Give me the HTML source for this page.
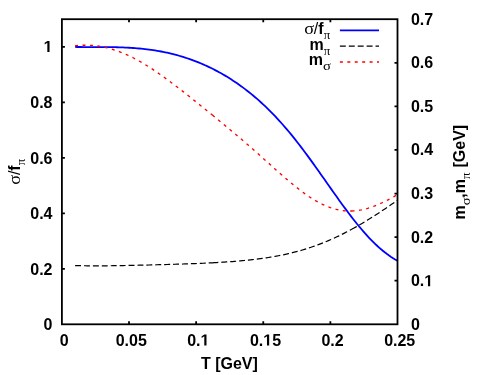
<!DOCTYPE html>
<html><head><meta charset="utf-8"><title>plot</title>
<style>
html,body{margin:0;padding:0;background:#fff;}
body{width:498px;height:375px;overflow:hidden;}
svg{display:block;}
text{font-family:"Liberation Sans",sans-serif;font-weight:bold;font-size:16px;fill:#000;font-kerning:none;}
.reg{font-weight:normal;}
.sym{font-family:"Liberation Serif",serif;font-weight:normal;}
.sub{font-family:"Liberation Serif",serif;font-weight:normal;font-size:12.8px;}
</style></head><body>
<svg style="will-change:transform" width="498" height="375" viewBox="0 0 498 375">
<rect x="0" y="0" width="498" height="375" fill="#fff"/>

<path d="M75.1,46.97 L77.1,46.99 L79.1,47.01 L81.1,47.02 L83.1,47.03 L85.1,47.03 L87.1,47.04 L89.1,47.04 L91.1,47.03 L93.1,47.03 L95.1,47.03 L97.1,47.03 L99.1,47.03 L101.1,47.04 L103.1,47.04 L105.1,47.06 L107.1,47.07 L109.1,47.09 L111.1,47.12 L113.1,47.15 L115.1,47.20 L117.1,47.25 L119.1,47.30 L121.1,47.37 L123.1,47.45 L125.1,47.53 L127.1,47.63 L129.1,47.74 L131.1,47.87 L133.1,48.00 L135.1,48.15 L137.1,48.31 L139.1,48.49 L141.1,48.68 L143.1,48.88 L145.1,49.11 L147.1,49.35 L149.1,49.60 L151.1,49.87 L153.1,50.16 L155.1,50.47 L157.1,50.80 L159.1,51.15 L161.1,51.51 L163.1,51.90 L165.1,52.31 L167.1,52.73 L169.1,53.18 L171.1,53.65 L173.1,54.14 L175.1,54.66 L177.1,55.19 L179.1,55.75 L181.1,56.34 L183.1,56.94 L185.1,57.57 L187.1,58.23 L189.1,58.90 L191.1,59.61 L193.1,60.33 L195.1,61.09 L197.1,61.86 L199.1,62.67 L201.1,63.50 L203.1,64.36 L205.1,65.24 L207.1,66.15 L209.1,67.09 L211.1,68.06 L213.1,69.05 L215.1,70.08 L217.1,71.13 L219.1,72.21 L221.1,73.32 L223.1,74.47 L225.1,75.64 L227.1,76.84 L229.1,78.08 L231.1,79.35 L233.1,80.64 L235.1,81.98 L237.1,83.34 L239.1,84.74 L241.1,86.17 L243.1,87.64 L245.1,89.14 L247.1,90.68 L249.1,92.26 L251.1,93.87 L253.1,95.51 L255.1,97.20 L257.1,98.92 L259.1,100.68 L261.1,102.48 L263.1,104.32 L265.1,106.20 L267.1,108.12 L269.1,110.08 L271.1,112.08 L273.1,114.13 L275.1,116.22 L277.1,118.35 L279.1,120.52 L281.1,122.73 L283.1,124.99 L285.1,127.29 L287.1,129.64 L289.1,132.02 L291.1,134.44 L293.1,136.91 L295.1,139.41 L297.1,141.95 L299.1,144.52 L301.1,147.13 L303.1,149.77 L305.1,152.44 L307.1,155.14 L309.1,157.87 L311.1,160.62 L313.1,163.39 L315.1,166.18 L317.1,168.99 L319.1,171.81 L321.1,174.65 L323.1,177.49 L325.1,180.34 L327.1,183.19 L329.1,186.03 L331.1,188.88 L333.1,191.71 L335.1,194.54 L337.1,197.35 L339.1,200.15 L341.1,202.92 L343.1,205.67 L345.1,208.39 L347.1,211.08 L349.1,213.74 L351.1,216.36 L353.1,218.94 L355.1,221.47 L357.1,223.96 L359.1,226.40 L361.1,228.79 L363.1,231.12 L365.1,233.39 L367.1,235.61 L369.1,237.77 L371.1,239.86 L373.1,241.88 L375.1,243.84 L377.1,245.73 L379.1,247.55 L381.1,249.30 L383.1,250.97 L385.1,252.57 L387.1,254.09 L389.1,255.54 L391.1,256.91 L393.1,258.20 L395.1,259.42 L397.1,260.56 L397.6,260.83" fill="none" stroke="#00f" stroke-width="1.8"/>
<path d="M75.1,265.55 L77.1,265.60 L79.1,265.65 L81.1,265.69 L83.1,265.72 L85.1,265.75 L87.1,265.78 L89.1,265.80 L91.1,265.81 L93.1,265.82 L95.1,265.82 L97.1,265.82 L99.1,265.82 L101.1,265.82 L103.1,265.81 L105.1,265.79 L107.1,265.78 L109.1,265.76 L111.1,265.73 L113.1,265.71 L115.1,265.68 L117.1,265.65 L119.1,265.62 L121.1,265.59 L123.1,265.56 L125.1,265.52 L127.1,265.48 L129.1,265.44 L131.1,265.40 L133.1,265.36 L135.1,265.31 L137.1,265.27 L139.1,265.22 L141.1,265.17 L143.1,265.13 L145.1,265.08 L147.1,265.03 L149.1,264.98 L151.1,264.93 L153.1,264.87 L155.1,264.82 L157.1,264.77 L159.1,264.71 L161.1,264.66 L163.1,264.60 L165.1,264.55 L167.1,264.49 L169.1,264.43 L171.1,264.37 L173.1,264.31 L175.1,264.25 L177.1,264.19 L179.1,264.12 L181.1,264.06 L183.1,263.99 L185.1,263.92 L187.1,263.85 L189.1,263.78 L191.1,263.71 L193.1,263.64 L195.1,263.56 L197.1,263.48 L199.1,263.40 L201.1,263.32 L203.1,263.23 L205.1,263.14 L207.1,263.05 L209.1,262.95 L211.1,262.85 L212.4,262.79 M212.4,262.79 L214.4,262.68 L216.4,262.57 L218.4,262.46 L220.4,262.34 L222.4,262.22 L224.4,262.09 L226.4,261.96 L228.4,261.83 L230.4,261.68 L232.4,261.53 L234.4,261.38 L236.4,261.22 L238.4,261.05 L240.4,260.87 L242.4,260.69 L244.4,260.50 L246.4,260.30 L248.4,260.10 L250.4,259.88 L252.4,259.66 L254.4,259.42 L256.4,259.18 L258.4,258.93 L260.4,258.66 L262.4,258.39 L264.4,258.10 L266.4,257.81 L268.4,257.50 L270.4,257.18 L272.4,256.84 L274.4,256.49 L276.4,256.13 L278.4,255.76 L280.4,255.37 L282.4,254.96 L284.4,254.54 L286.4,254.11 L288.4,253.65 L290.4,253.18 L292.4,252.70 L294.4,252.19 L296.4,251.67 L298.4,251.13 L300.4,250.57 L302.4,249.99 L304.4,249.39 L306.4,248.77 L308.4,248.13 L310.4,247.47 L312.4,246.80 L314.4,246.10 L316.4,245.38 L318.4,244.64 L320.4,243.88 L322.4,243.09 L324.4,242.29 L326.4,241.47 L328.4,240.62 L330.4,239.76 L332.4,238.87 L334.4,237.96 L336.4,237.03 L338.4,236.09 L340.4,235.12 L342.4,234.13 L344.4,233.12 L346.4,232.09 L348.4,231.04 L350.4,229.97 L351.6,229.32 M351.6,229.32 L353.6,228.22 L355.6,227.11 L357.6,225.97 L359.6,224.82 L361.6,223.65 L363.6,222.46 L365.6,221.25 L367.6,220.03 L369.6,218.80 L371.6,217.55 L373.6,216.28 L375.6,215.00 L377.6,213.71 L379.6,212.40 L381.6,211.08 L383.6,209.75 L385.6,208.41 L387.6,207.06 L389.6,205.70 L391.6,204.33 L393.6,202.96 L395.6,201.57 L397.6,200.18" fill="none" stroke="#000" stroke-width="1.2" stroke-dasharray="5.94 2.97"/>
<path d="M75.1,45.77 L77.1,45.57 L79.1,45.42 L81.1,45.31 L83.1,45.24 L85.1,45.22 L87.1,45.24 L89.1,45.30 L91.1,45.41 L93.1,45.56 L95.1,45.75 L97.1,45.99 L99.1,46.28 L101.1,46.61 L103.1,46.98 L105.1,47.40 L107.1,47.87 L109.1,48.38 L111.1,48.93 L113.1,49.52 L115.1,50.16 L117.1,50.84 L119.1,51.57 L121.1,52.33 L123.1,53.14 L125.1,53.99 L127.1,54.87 L129.1,55.80 L131.1,56.77 L133.1,57.77 L135.1,58.81 L137.1,59.88 L139.1,60.99 L141.1,62.13 L143.1,63.30 L145.1,64.51 L147.1,65.75 L149.1,67.01 L151.1,68.30 L153.1,69.62 L155.1,70.96 L157.1,72.33 L159.1,73.71 L161.1,75.12 L163.1,76.55 L165.1,77.99 L167.1,79.45 L169.1,80.93 L171.1,82.42 L173.1,83.92 L175.1,85.44 L177.1,86.97 L179.1,88.51 L181.1,90.05 L183.1,91.61 L185.1,93.18 L187.1,94.75 L189.1,96.33 L191.1,97.92 L193.1,99.51 L195.1,101.11 L197.1,102.71 L199.1,104.31 L201.1,105.93 L203.1,107.54 L205.1,109.16 L207.1,110.78 L209.1,112.41 L211.1,114.04 L212.4,115.10 M212.4,115.10 L214.4,116.73 L216.4,118.37 L218.4,120.01 L220.4,121.66 L222.4,123.30 L224.4,124.96 L226.4,126.61 L228.4,128.28 L230.4,129.94 L232.4,131.62 L234.4,133.30 L236.4,134.98 L238.4,136.67 L240.4,138.38 L242.4,140.08 L244.4,141.80 L246.4,143.53 L248.4,145.26 L250.4,147.01 L252.4,148.76 L254.4,150.52 L256.4,152.29 L258.4,154.06 L260.4,155.84 L262.4,157.63 L264.4,159.42 L266.4,161.21 L268.4,163.01 L270.4,164.80 L272.4,166.59 L274.4,168.38 L276.4,170.17 L278.4,171.95 L280.4,173.72 L282.4,175.47 L284.4,177.22 L286.4,178.94 L288.4,180.65 L290.4,182.34 L292.4,184.01 L294.4,185.65 L296.4,187.26 L298.4,188.84 L300.4,190.39 L302.4,191.90 L304.4,193.37 L306.4,194.80 L308.4,196.18 L310.4,197.51 L312.4,198.79 L314.4,200.02 L316.4,201.19 L318.4,202.30 L320.4,203.35 L322.4,204.34 L324.4,205.27 L326.4,206.13 L328.4,206.92 L330.4,207.64 L332.4,208.30 L334.4,208.89 L336.4,209.40 L338.4,209.85 L340.4,210.22 L342.4,210.52 L344.4,210.75 L346.4,210.91 L348.4,211.00 L350.4,211.02 L351.6,210.99 M351.6,210.99 L353.6,210.90 L355.6,210.73 L357.6,210.50 L359.6,210.20 L361.6,209.83 L363.6,209.40 L365.6,208.91 L367.6,208.36 L369.6,207.75 L371.6,207.08 L373.6,206.36 L375.6,205.59 L377.6,204.77 L379.6,203.90 L381.6,202.99 L383.6,202.04 L385.6,201.05 L387.6,200.03 L389.6,198.97 L391.6,197.90 L393.6,196.80 L395.6,195.68 L397.6,194.55" fill="none" stroke="#f00" stroke-width="1.35" stroke-dasharray="2.97 4.455"/>
<rect x="61.9" y="19.2" width="335.6" height="305.1" fill="none" stroke="#000" stroke-width="1.8"/>
<path d="M129.02,324.3 v-3.0 M129.02,19.2 v3.0 M196.14,324.3 v-3.0 M196.14,19.2 v3.0 M263.26,324.3 v-3.0 M263.26,19.2 v3.0 M330.38,324.3 v-3.0 M330.38,19.2 v3.0 M61.9,268.83 h3.0 M61.9,213.35 h3.0 M61.9,157.88 h3.0 M61.9,102.41 h3.0 M61.9,46.94 h3.0 M397.5,280.71 h-3.0 M397.5,237.13 h-3.0 M397.5,193.54 h-3.0 M397.5,149.96 h-3.0 M397.5,106.37 h-3.0 M397.5,62.79 h-3.0" fill="none" stroke="#000" stroke-width="1.8"/>
<text x="43.6" y="330.1">0</text>
<text x="30.26 39.16 43.6" y="274.63">0.2</text>
<text x="30.26 39.16 43.6" y="219.15">0.4</text>
<text x="30.26 39.16 43.6" y="163.68">0.6</text>
<text x="30.26 39.16 43.6" y="108.21">0.8</text>
<path d="M478 0V1170L140 959V1180L493 1409H759V0Z" transform="translate(43.6,51.94) scale(0.007812,-0.007812)"/>
<text x="410.9" y="329.8">0</text>
<text x="410.9 419.8" y="286.21">0.</text><path d="M478 0V1170L140 959V1180L493 1409H759V0Z" transform="translate(424.24,286.21) scale(0.007812,-0.007812)"/>
<text x="410.9 419.8 424.24" y="242.63">0.2</text>
<text x="410.9 419.8 424.24" y="199.04">0.3</text>
<text x="410.9 419.8 424.24" y="155.46">0.4</text>
<text x="410.9 419.8 424.24" y="111.87">0.5</text>
<text x="410.9 419.8 424.24" y="68.29">0.6</text>
<text x="410.9 419.8 424.24" y="24.7">0.7</text>
<text x="59.65" y="345.5">0</text>
<text x="115.65 124.55 128.99 137.89" y="345.5">0.05</text>
<text x="187.22 196.12" y="345.5">0.</text><path d="M478 0V1170L140 959V1180L493 1409H759V0Z" transform="translate(200.56,345.5) scale(0.007812,-0.007812)"/>
<text x="249.89 258.79 272.13" y="345.5">0.5</text><path d="M478 0V1170L140 959V1180L493 1409H759V0Z" transform="translate(263.23,345.5) scale(0.007812,-0.007812)"/>
<text x="321.46 330.36 334.8" y="345.5">0.2</text>
<text x="384.13 393.03 397.47 406.37" y="345.5">0.25</text>
<text x="200.95 215.17 220.5 232.95 241.85 252.52" y="368.9">T[GeV]</text>
<g transform="translate(19.8,171.5) rotate(-90)"><text class="sym" transform="translate(-13.22,0) scale(1.15,1)">σ</text><text class="reg" x="-3.58" y="0">/</text><text x="0.87" y="0">f</text><text class="sub" transform="translate(6.2,4.8) scale(1.0,1)">π</text></g>
<g transform="translate(465.2,172.2) rotate(-90)"><text x="-47.38" y="0">m</text><text class="sub" transform="translate(-33.15,4.8) scale(1.15,1)">σ</text><text x="-25.44 -20.99" y="0">,m</text><text class="sub" transform="translate(-6.76,4.8) scale(1.0,1)">π</text><text x="4.71 10.04 22.48 31.38 42.05" y="0">[GeV]</text></g>
<text class="sym" transform="translate(304.21,34.1) scale(1.15,1)">σ</text><text class="reg" x="313.86" y="34.1">/</text><text x="318.3" y="34.1">f</text><text class="sub" transform="translate(323.63,38.9) scale(1.0,1)">π</text>
<text x="309.41" y="50">m</text><text class="sub" transform="translate(323.63,54.8) scale(1.0,1)">π</text>
<text x="308.72" y="65.3">m</text><text class="sub" transform="translate(322.94,70.1) scale(1.15,1)">σ</text>
<path d="M339.9,30.3 H379.0" stroke="#00f" stroke-width="1.8" fill="none"/>
<path d="M339.9,46.2 H379.0" stroke="#000" stroke-width="1.2" fill="none" stroke-dasharray="5.94 2.97"/>
<path d="M339.9,62.0 H379.0" stroke="#f00" stroke-width="1.35" fill="none" stroke-dasharray="2.97 4.455"/>
</svg></body></html>
